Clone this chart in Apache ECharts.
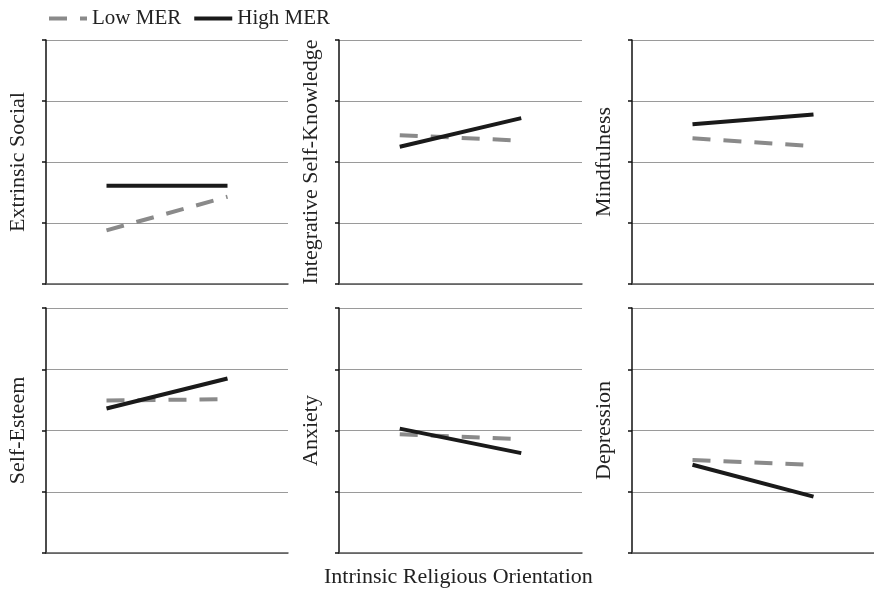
<!DOCTYPE html>
<html>
<head>
<meta charset="utf-8">
<script src="https://cdn.jsdelivr.net/npm/echarts@6/dist/echarts.min.js"></script>
<style>
  html, body { margin: 0; padding: 0; background: #fff; }
  #chart { width: 874px; height: 592px; }
</style>
</head>
<body>
<div id="chart"></div>
<script>
// x categories (levels of intrinsic religious orientation)
const categories = ["Low", "High"];
const panelNames = ["Extrinsic Social", "Integrative Self-Knowledge", "Mindfulness",
                    "Self-Esteem", "Anxiety", "Depression"];
// y values on a 0..4 scale (one gridline per unit)
const lowMER  = [[0.88, 1.43], [2.44, 2.35], [2.39, 2.26], [2.49, 2.51], [1.94, 1.86], [1.52, 1.44]];
const highMER = [[1.61, 1.61], [2.25, 2.72], [2.62, 2.78], [2.36, 2.85], [2.03, 1.63], [1.44, 0.92]];
const yTicks = [0, 1, 2, 3, 4];

const FONT = "Liberation Serif";
const colLeft = [46, 339, 632];
const colWidth = [242, 243, 242];
const rowTop = [40, 308];
const rowHeight = [244, 245];

const grids = [], xAxes = [], yAxes = [], series = [];
panelNames.forEach((name, i) => {
  const r = Math.floor(i / 3), c = i % 3;
  grids.push({ left: colLeft[c], top: rowTop[r], width: colWidth[c], height: rowHeight[r] });
  xAxes.push({
    gridIndex: i,
    type: "category",
    data: categories,
    boundaryGap: true,
    axisLine: { lineStyle: { color: "#555", width: 1.5 } },
    axisTick: { show: false },
    axisLabel: { show: false }
  });
  yAxes.push({
    gridIndex: i,
    type: "value",
    min: yTicks[0],
    max: yTicks[yTicks.length - 1],
    interval: 1,
    name: name,
    nameLocation: "middle",
    nameGap: 17,
    nameTextStyle: { fontFamily: FONT, fontSize: 22, color: "#222" },
    axisLine: { show: true, lineStyle: { color: "#111", width: 1.5 } },
    axisTick: { show: true, inside: false, length: 4, lineStyle: { color: "#111", width: 1.5 } },
    axisLabel: { show: false },
    splitLine: { lineStyle: { color: "#9a9a9a", width: 1 } }
  });
  series.push({
    name: "Low MER",
    type: "line",
    xAxisIndex: i,
    yAxisIndex: i,
    data: lowMER[i],
    symbol: "none",
    silent: true,
    lineStyle: { color: "#8a8a8a", width: 4, type: [18, 13], cap: "butt" },
    itemStyle: { color: "#8a8a8a" }
  });
  series.push({
    name: "High MER",
    type: "line",
    xAxisIndex: i,
    yAxisIndex: i,
    data: highMER[i],
    symbol: "none",
    silent: true,
    z: 3,
    lineStyle: { color: "#1a1a1a", width: 4, cap: "butt" },
    itemStyle: { color: "#1a1a1a" }
  });
});

const chart = echarts.init(document.getElementById("chart"));
chart.setOption({
  animation: false,
  backgroundColor: "#fff",
  legend: {
    data: ["Low MER", "High MER"],
    left: 42,
    top: 3,
    itemWidth: 38,
    itemHeight: 12,
    itemGap: 11,
    itemStyle: { opacity: 0 },
    lineStyle: { width: 4 },
    textStyle: { fontFamily: FONT, fontSize: 21, color: "#222" }
  },
  graphic: [{
    type: "text",
    left: 461 - 137,
    top: 566,
    style: {
      text: "Intrinsic Religious Orientation",
      font: "22px " + FONT,
      fill: "#222"
    }
  }],
  grid: grids,
  xAxis: xAxes,
  yAxis: yAxes,
  series: series
});
</script>
</body>
</html>
